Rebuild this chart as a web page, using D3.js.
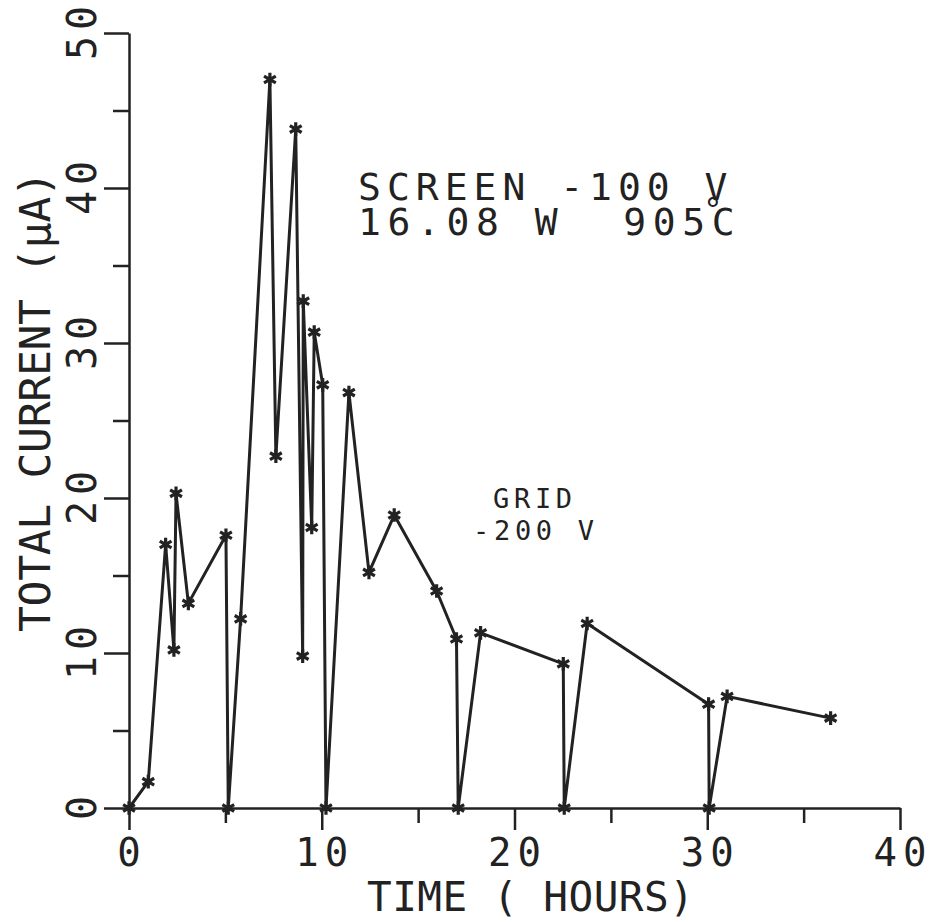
<!DOCTYPE html>
<meta charset="utf-8">
<style>
body { margin: 0; background: #fff; }
svg text { font-family: "DejaVu Sans Mono", monospace; fill: #222; }
</style>
<svg width="931" height="922"></svg>
<script src="https://d3js.org/d3.v7.min.js"></script>
<script>
// readings taken off the plot: time in hours, total current in microamps
const hours = [0, 1.0, 1.9, 2.33, 2.44, 3.08, 5.03, 5.15, 5.79, 7.31,
  7.62, 8.65, 9.01, 9.04, 9.48, 9.61, 10.05, 10.22, 11.41, 12.45,
  13.76, 15.96, 16.99, 17.08, 18.24, 22.53, 22.58, 23.77, 30.07, 30.1,
  31.03, 36.4];
const current = [0, 1.7, 17.0, 10.2, 20.3, 13.2, 17.6, 0, 12.2, 47.0,
  22.7, 43.8, 9.8, 32.7, 18.1, 30.7, 27.3, 0, 26.8, 15.2,
  18.9, 14.0, 10.9, 0, 11.3, 9.3, 0, 11.9, 6.7, 0,
  7.2, 5.8];
const xTicks = [0, 10, 20, 30, 40];
const xMinor = [5, 15, 25, 35];
const yTicks = [0, 10, 20, 30, 40, 50];
const yMinor = [5, 15, 25, 35, 45];

var svg = d3.select("svg"),
    ink = "#222";

var x = d3.scaleLinear().domain([0, 40]).range([129, 900]),
    y = d3.scaleLinear().domain([0, 50]).range([808, 33]);

function styleAxis(g) {
  g.selectAll("path, line").attr("stroke", ink).attr("stroke-width", 2.5);
  g.selectAll("text").remove();
}

// x axis, major + minor ticks
svg.append("g").attr("transform", "translate(0," + y(0) + ")")
    .call(d3.axisBottom(x).tickValues(xTicks).tickSize(22).tickSizeOuter(0))
    .call(styleAxis);
svg.append("g").attr("transform", "translate(0," + y(0) + ")")
    .call(d3.axisBottom(x).tickValues(xMinor).tickSize(15).tickSizeOuter(0))
    .call(styleAxis)
    .select(".domain").remove();

// y axis
svg.append("g").attr("transform", "translate(" + x(0) + ",0)")
    .call(d3.axisLeft(y).tickValues(yTicks).tickSize(25).tickSizeOuter(0))
    .call(styleAxis);
svg.append("g").attr("transform", "translate(" + x(0) + ",0)")
    .call(d3.axisLeft(y).tickValues(yMinor).tickSize(16).tickSizeOuter(0))
    .call(styleAxis)
    .select(".domain").remove();

// tick labels
var ls = 6;
svg.selectAll(".xlab").data(xTicks).enter().append("text")
    .attr("x", d => x(d) + ls / 2)
    .attr("y", 866)
    .attr("text-anchor", "middle")
    .style("font-size", "39px")
    .style("letter-spacing", ls + "px")
    .text(d => d);

svg.selectAll(".ylab").data(yTicks).enter().append("text")
    .attr("transform", d => "translate(96," + (y(d) - ls / 2) + ") rotate(-90)")
    .attr("text-anchor", "middle")
    .style("font-size", "40px")
    .style("letter-spacing", ls + "px")
    .text(d => d);

// axis titles
svg.append("text")
    .attr("x", 367).attr("y", 911)
    .style("font-size", "41px")
    .style("letter-spacing", "0.5px")
    .text("TIME ( HOURS)");

svg.append("text")
    .attr("transform", "translate(50,632) rotate(-90)")
    .style("font-size", "43px")
    .style("letter-spacing", "-0.3px")
    .text("TOTAL CURRENT (\u03bcA)");

// the data line
var line = d3.line()
    .x((d, i) => x(hours[i]))
    .y(d => y(d));

svg.append("path")
    .datum(current)
    .attr("fill", "none")
    .attr("stroke", ink)
    .attr("stroke-width", 3)
    .attr("stroke-linejoin", "round")
    .attr("d", line);

var star = d3.symbol().type(d3.symbolAsterisk).size(130);
svg.selectAll(".pt").data(current).enter().append("path")
    .attr("transform", (d, i) => "translate(" + x(hours[i]) + "," + y(d) + ")")
    .attr("d", star)
    .attr("fill", "none")
    .attr("stroke", ink)
    .attr("stroke-width", 3.2);

// annotations
svg.append("text")
    .attr("x", 358).attr("y", 200)
    .style("font-size", "38px")
    .style("letter-spacing", "6px")
    .text("SCREEN -100 V");
svg.append("text")
    .attr("x", 358).attr("y", 235)
    .style("font-size", "38px")
    .style("letter-spacing", "6.6px")
    .text("16.08 W\u00a0\u00a0905C");
svg.append("text")
    .attr("x", 713).attr("y", 221)
    .attr("text-anchor", "middle")
    .style("font-size", "32px")
    .text("\u00b0");

svg.append("text")
    .attr("x", 493).attr("y", 508)
    .style("font-size", "27px")
    .style("letter-spacing", "4.7px")
    .text("GRID");
svg.append("text")
    .attr("x", 473).attr("y", 540)
    .style("font-size", "27px")
    .style("letter-spacing", "4.7px")
    .text("-200 V");
</script>
